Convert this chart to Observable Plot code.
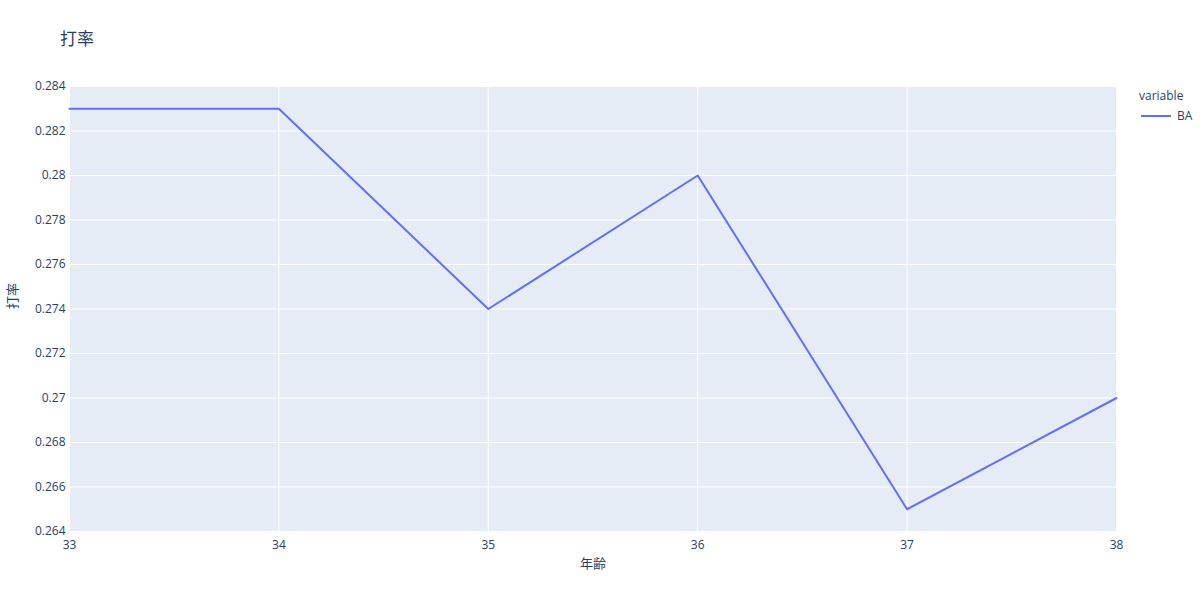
<!DOCTYPE html>
<html><head><meta charset="utf-8">
<script src="https://cdn.jsdelivr.net/npm/d3@7"></script>
<script src="https://cdn.jsdelivr.net/npm/@observablehq/plot@0.6"></script>
<style>
body{margin:0;background:#fff;font-family:"Open Sans","Noto Sans CJK JP",sans-serif;}
#wrap{position:relative;width:1200px;height:600px;}
#title{position:absolute;left:60px;top:25px;font-size:17px;color:#2a3f5f;font-family:"Open Sans","Noto Sans CJK JP",sans-serif;}
#legend{position:absolute;left:1139px;top:87px;font-size:12px;color:#2a3f5f;}
#legend .row{display:flex;align-items:center;margin-top:3px;}
#legend .sw{width:30px;height:2px;background:#636efa;margin-left:2px;margin-right:6px;}
</style></head><body>
<div id="wrap"><div id="chart"></div><div id="title">打率</div>
<div id="legend"><div>variable</div><div class="row"><div class="sw"></div><div>BA</div></div></div></div>
<script>
const ages = [33, 34, 35, 36, 37, 38];
const ba = [0.283, 0.283, 0.274, 0.280, 0.265, 0.270];
const yTicks = [0.264, 0.266, 0.268, 0.270, 0.272, 0.274, 0.276, 0.278, 0.280, 0.282, 0.284];
const xTicks = [33, 34, 35, 36, 37, 38];
const data = ages.map((a, i) => ({age: a, BA: ba[i]}));
const fmt = d3.format("~g");
const xfmt = d => String(d);
const chart = Plot.plot({
  width: 1200, height: 600,
  marginLeft: 69, marginRight: 84, marginTop: 86, marginBottom: 69,
  style: {fontFamily: '"Open Sans","Noto Sans CJK JP",sans-serif', fontSize: "12px", color: "#2a3f5f", background: "transparent"},
  x: {domain: [33, 38], ticks: xTicks, tickFormat: xfmt, label: null},
  y: {domain: [0.264, 0.284], ticks: yTicks, tickFormat: fmt, label: null},
  marks: [
    Plot.frame({fill: "#E5ECF6", stroke: null}),
    Plot.gridX(xTicks, {stroke: "#fff", strokeOpacity: 1, strokeWidth: 1}),
    Plot.gridY(yTicks, {stroke: "#fff", strokeOpacity: 1, strokeWidth: 1}),
    Plot.axisX(xTicks, {tickSize: 0, tickPadding: 9, fontSize: 12, fill: "#2a3f5f", tickFormat: xfmt, label: null}),
    Plot.axisY(yTicks, {tickSize: 0, tickPadding: 4, fontSize: 12, fill: "#2a3f5f", tickFormat: fmt, label: null}),
    Plot.line(data, {x: "age", y: "BA", stroke: "#636efa", strokeWidth: 2}),
    Plot.text(["年齢"], {frameAnchor: "bottom", dy: 36, fontSize: 13, fill: "#2a3f5f"}),
    Plot.text(["打率"], {frameAnchor: "left", dx: -57, rotate: -90, fontSize: 13, fill: "#2a3f5f"})
  ]
});
document.getElementById("chart").appendChild(chart);
</script></body></html>
